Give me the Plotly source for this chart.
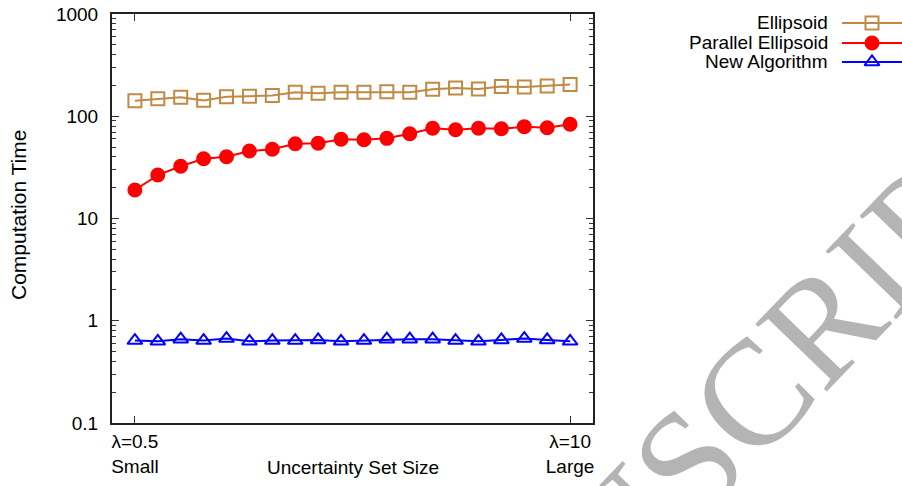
import plotly.graph_objects as go

# Uncertainty set size index (lambda = 0.5, 1.0, ..., 10)
steps = list(range(1, 21))
x_tick_vals = [1, 20]
x_tick_text = ["λ=0.5<br>Small", "λ=10<br>Large"]

# Computation time per method
ellipsoid = [142, 148, 153, 143, 155, 157, 160, 172, 168, 172,
             172, 174, 172, 184, 189, 185, 195, 193, 198, 204]
parallel_ellipsoid = [19.0, 26.6, 32.4, 38.4, 40.2, 45.7, 47.5, 53.9, 54.4, 59.5,
                      59.0, 60.8, 67.5, 76.2, 73.8, 76.2, 75.5, 79.1, 77.3, 83.4]
new_algorithm = [0.64, 0.63, 0.66, 0.64, 0.67, 0.63, 0.64, 0.64, 0.65, 0.63,
                 0.64, 0.66, 0.66, 0.66, 0.64, 0.63, 0.65, 0.67, 0.65, 0.63]

y_tick_vals = [0.1, 1, 10, 100, 1000]
y_tick_text = ["0.1", "1", "10", "100", "1000"]

series_names = ["Ellipsoid", "Parallel Ellipsoid", "New Algorithm"]
series_values = [ellipsoid, parallel_ellipsoid, new_algorithm]
series_colors = ["#c08a45", "#ff0000", "#0000ff"]
series_symbols = ["square-open", "circle", "triangle-up-open"]
series_sizes = [13, 13, 13]

FONT = "Liberation Sans, Arial, Helvetica, sans-serif"
FS = 19
W, H = 902, 486
# plot frame in page pixels
L, R, T, B = 112, 593, 14, 423


def fx(px):
    return px / W


def fy(py):
    return 1 - py / H


fig = go.Figure()

for name, vals, col, sym, sz in zip(series_names, series_values, series_colors,
                                    series_symbols, series_sizes):
    fig.add_trace(go.Scatter(
        x=steps, y=vals, name=name, mode="lines+markers",
        line=dict(color=col, width=2),
        marker=dict(symbol=sym, size=sz, color=col, line=dict(color=col, width=2)),
        showlegend=False,
    ))

# Key in the top-right corner: label, sample line and marker
key_rows = [23, 43, 62]
key_x_text = 830
key_line = (842, 902)
key_marker_x = 872

annotations = []
shapes = []
for name, col, sym, sz, row in zip(series_names, series_colors, series_symbols,
                                   series_sizes, key_rows):
    annotations.append(dict(
        x=fx(key_x_text), y=fy(row), xref="paper", yref="paper",
        text=name, showarrow=False, xanchor="right", yanchor="middle",
        font=dict(family=FONT, size=FS, color="black"),
    ))
    shapes.append(dict(
        type="line", xref="paper", yref="paper",
        x0=fx(key_line[0]), x1=fx(key_line[1]), y0=fy(row), y1=fy(row),
        line=dict(color=col, width=2),
    ))
    fig.add_trace(go.Scatter(
        x=[key_marker_x], y=[row], xaxis="x2", yaxis="y2",
        mode="markers", showlegend=False, hoverinfo="skip",
        marker=dict(symbol=sym, size=sz, color=col, line=dict(color=col, width=2)),
    ))

# axis titles
annotations.append(dict(
    x=fx(353), y=fy(467), xref="paper", yref="paper",
    text="Uncertainty Set Size", showarrow=False, xanchor="center", yanchor="middle",
    font=dict(family=FONT, size=FS, color="black"),
))
annotations.append(dict(
    x=fx(18), y=fy(215), xref="paper", yref="paper",
    text="Computation Time", showarrow=False, xanchor="center", yanchor="middle",
    textangle=-90,
    font=dict(family=FONT, size=21, color="black"),
))

# Watermark
annotations.append(dict(
    x=fx(676), y=fy(474), xref="paper", yref="paper",
    text="MANUSCRIPT", showarrow=False, xanchor="center", yanchor="middle",
    textangle=-46,
    font=dict(family="Liberation Serif, Times New Roman, serif", size=150, color="#b4b4b4"),
))

minor_vals = [m * 10 ** e for e in range(-1, 3) for m in range(2, 10)]

fig.update_layout(
    width=W, height=H,
    margin=dict(l=0, r=0, t=0, b=0),
    paper_bgcolor="white", plot_bgcolor="rgba(0,0,0,0)",
    font=dict(family=FONT, size=FS, color="black"),
    showlegend=False,
    xaxis=dict(
        domain=[L / W, R / W], anchor="y", automargin=False,
        range=[0, 21], tickmode="array", tickvals=x_tick_vals, ticktext=x_tick_text,
        ticks="inside", ticklen=7, tickwidth=1, tickcolor="#333",
        showline=True, linecolor="#222", linewidth=2, mirror="ticks",
        showgrid=False, zeroline=False,
        tickfont=dict(family=FONT, size=FS, color="black"),
    ),
    yaxis=dict(
        domain=[1 - B / H, 1 - T / H], anchor="x", automargin=False,
        type="log", range=[-1, 3], tickmode="array", tickvals=y_tick_vals,
        ticktext=y_tick_text,
        ticks="inside", ticklen=7, tickwidth=1, tickcolor="#333",
        minor=dict(tickmode="array", tickvals=minor_vals, ticks="inside",
                   ticklen=4, tickwidth=1, tickcolor="#333", showgrid=False),
        showline=True, linecolor="#222", linewidth=2, mirror="ticks",
        showgrid=False, zeroline=False,
        tickfont=dict(family=FONT, size=FS, color="black"),
        ticklabelstandoff=8,
    ),
    # page-pixel axes for the key markers
    xaxis2=dict(domain=[0, 1], anchor="y2", range=[0, W], visible=False, automargin=False),
    yaxis2=dict(domain=[0, 1], anchor="x2", range=[H, 0], visible=False, automargin=False),
    annotations=annotations,
    shapes=shapes,
)

fig.write_html("out.html")
